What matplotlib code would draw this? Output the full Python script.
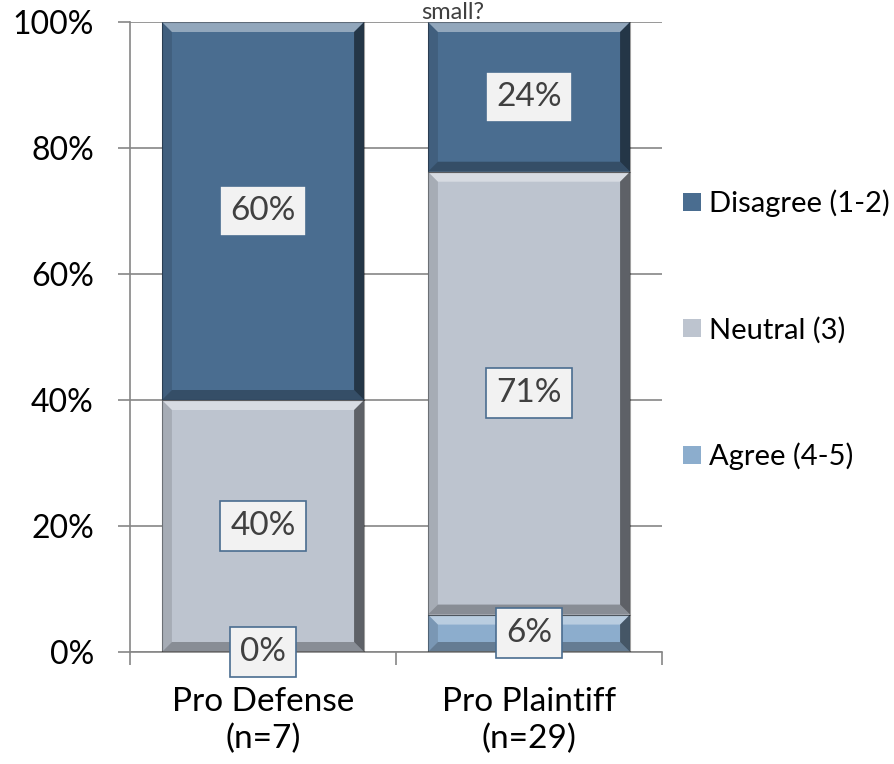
import matplotlib
matplotlib.use("Agg")
import matplotlib.pyplot as plt
from matplotlib.patches import Polygon, Rectangle
import numpy as np

plt.rcParams['font.family'] = ['Lato', 'DejaVu Sans']

categories = ["Pro Defense\n(n=7)", "Pro Plaintiff\n(n=29)"]
series_names = ["Agree (4-5)", "Neutral (3)", "Disagree (1-2)"]
agree = [0, 6]
neutral = [40, 71]
disagree = [60, 24]
yticks = [0, 20, 40, 60, 80, 100]
ytick_labels = ["0%", "20%", "40%", "60%", "80%", "100%"]
title_fragment = "small?"

colors = {"Agree (4-5)": "#8cadcd", "Neutral (3)": "#bdc4cf", "Disagree (1-2)": "#4a6d90"}

fig = plt.figure(figsize=(8.94, 7.64), dpi=100)
ax = fig.add_axes([130/894, 1-652/764, 532/894, 630/764])

raw = np.array([agree, neutral, disagree], dtype=float)
totals = raw.sum(axis=0)
pct = raw / totals * 100

x = np.arange(len(categories))
width = 0.76
bottoms = np.zeros(len(categories))
bars = []
for name, vals, rawv in zip(series_names, pct, raw):
    b = ax.bar(x, vals, width, bottom=bottoms, color=colors[name], edgecolor='none',
               zorder=2, label=name)
    bars.append((b, rawv, bottoms.copy(), vals))
    bottoms = bottoms + vals

# bevel effect derived from bar geometry
bx = 10 / 266.0
by = 10 / 6.3
for b, rawv, bot, vals in bars:
    for rect in b.patches:
        x0, y0 = rect.get_x(), rect.get_y()
        w, h = rect.get_width(), rect.get_height()
        if h <= 0:
            continue
        x1, y1 = x0 + w, y0 + h
        byy = min(by, h / 2.2)
        top = Polygon([(x0, y1), (x1, y1), (x1 - bx, y1 - byy), (x0 + bx, y1 - byy)],
                      closed=True, facecolor='white', alpha=0.4, edgecolor='none', zorder=3)
        bottom = Polygon([(x0, y0), (x1, y0), (x1 - bx, y0 + byy), (x0 + bx, y0 + byy)],
                         closed=True, facecolor='black', alpha=0.28, edgecolor='none', zorder=3)
        left = Polygon([(x0, y0), (x0, y1), (x0 + bx, y1 - byy), (x0 + bx, y0 + byy)],
                       closed=True, facecolor='black', alpha=0.12, edgecolor='none', zorder=3)
        right = Polygon([(x1, y0), (x1, y1), (x1 - bx, y1 - byy), (x1 - bx, y0 + byy)],
                        closed=True, facecolor='black', alpha=0.5, edgecolor='none', zorder=3)
        for p in (top, bottom, left, right):
            ax.add_patch(p)
        ax.add_patch(Rectangle((x0, y0), w, h, fill=False, edgecolor='black', alpha=0.35,
                               linewidth=0.8, zorder=3))

# data labels
for b, rawv, bot, vals in bars:
    for i, rect in enumerate(b.patches):
        yc = bot[i] + vals[i] / 2
        ax.text(rect.get_x() + rect.get_width() / 2, yc, f"{int(rawv[i])}%",
                ha='center', va='center', fontsize=24, color='#404040', zorder=5,
                bbox=dict(boxstyle='square,pad=0.3', facecolor='#f2f2f2',
                          edgecolor='#4a6d90', linewidth=1.2))

ax.set_xlim(-0.5, 1.5)
ax.set_ylim(0, 100)
ax.set_yticks(yticks)
ax.set_yticklabels(ytick_labels, fontsize=23, color='black')
ax.set_xticks([-0.5, 0.5, 1.5], minor=False)
ax.set_xticklabels(["", "", ""])
ax.set_xticks(x, minor=True)
ax.set_xticklabels(categories, minor=True, fontsize=24, color='black', linespacing=1.3)
ax.tick_params(axis='x', which='minor', length=0, pad=25)
ax.tick_params(axis='x', which='major', length=9, color='#868686', width=1.2)
ax.tick_params(axis='y', length=9, color='#868686', width=1.2, pad=17)
ax.grid(axis='y', color='#868686', linewidth=1.2, zorder=0)
ax.set_axisbelow(True)
for s in ['top', 'right']:
    ax.spines[s].set_visible(False)
for s in ['left', 'bottom']:
    ax.spines[s].set_color('#868686')
    ax.spines[s].set_linewidth(1.2)

fig.text(0.506, 1 - 19/764, title_fragment, ha='center', va='baseline', fontsize=17, color='#404040')

handles, labels = ax.get_legend_handles_labels()
leg = ax.legend(handles[::-1], labels[::-1], loc='center left',
                bbox_to_anchor=(683/894, 1 - 330/764), bbox_transform=fig.transFigure,
                frameon=False, fontsize=21, handlelength=0.6, handleheight=0.6,
                handletextpad=0.3, labelspacing=3.4, borderpad=0, borderaxespad=0)

fig.savefig("out.png", dpi=100)
